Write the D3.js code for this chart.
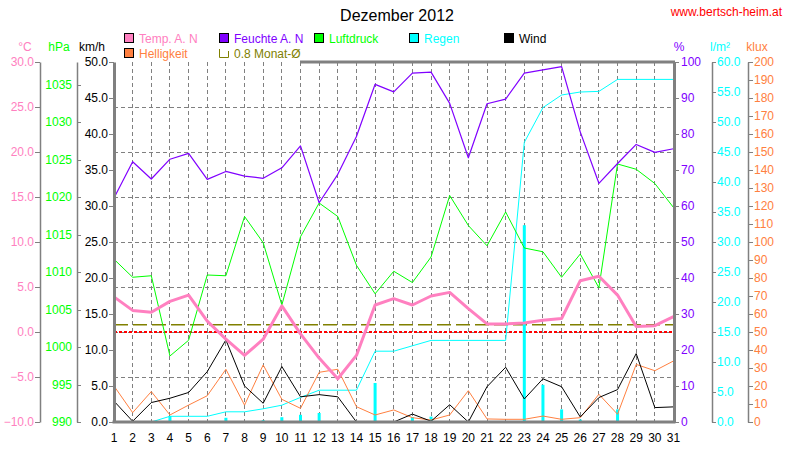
<!DOCTYPE html>
<html>
<head>
<meta charset="utf-8">
<script src="https://cdn.jsdelivr.net/npm/d3@7"></script>
<style>
  body { margin: 0; background: #fff; }
  svg { font-family: "Liberation Sans", Arial, sans-serif; font-size: 12px; }
  .axis path, .axis line { stroke: #808080; }
  .axis text { font-size: 12px; }
</style>
</head>
<body>
<div id="chart"></div>
<script>
// Tage im Dezember
var days = [1,2,3,4,5,6,7,8,9,10,11,12,13,14,15,16,17,18,19,20,21,22,23,24,25,26,27,28,29,30,31];

var temp = [3.9,2.4,2.2,3.4,4.1,1.2,-0.8,-2.6,-0.8,2.9,-0.2,-2.9,-5.2,-2.6,3.0,3.7,3.0,4.0,4.4,2.6,0.9,0.9,1.0,1.3,1.5,5.7,6.2,4.1,0.6,0.7,1.7];
var humidity = [62.2,72.3,67.5,73.0,74.6,67.4,69.6,68.3,67.7,70.6,76.7,60.9,68.8,79.3,93.8,91.7,96.9,97.2,88.5,73.4,88.4,89.7,96.9,97.8,98.7,80.6,66.3,71.8,77.1,74.9,75.9];
var pressure = [1011.7,1009.3,1009.5,998.8,1000.9,1009.6,1009.5,1017.4,1013.9,1005.6,1014.7,1019.2,1017.4,1010.9,1007.1,1010.1,1008.6,1012.0,1020.2,1016.2,1013.5,1018.0,1013.2,1012.7,1009.3,1012.4,1007.9,1024.4,1023.7,1021.8,1018.6];
var wind = [2.9,0.1,2.7,3.3,4.1,7.0,11.4,5.0,2.6,7.7,3.5,3.8,3.5,0,0,0,1.1,0.1,2.4,0,4.9,7.6,3.2,6.0,4.9,0.7,3.4,4.5,9.5,2.0,2.1];
var light = [20.0,5.2,16.9,3.9,9.4,14.6,29.3,9.4,31.7,12.6,7.6,27.6,29.3,8.5,3.9,6.7,2.4,1.1,3.9,17.4,1.7,1.5,1.5,3.3,1.5,2.4,15.4,4.3,32.0,28.5,33.9];
var rainDay = [0,0,0,1.0,0,0,0.7,0,0.3,0.8,1.2,1.5,0,0,6.5,0,0.8,0.9,0,0,0,0,32.8,6.2,2.1,0.4,0,2.1,0,0,0];
var rainSum = [0,0,0,0.95,0.95,0.95,1.7,1.7,2.2,2.8,4.1,5.3,5.3,5.3,11.8,11.8,12.7,13.6,13.6,13.6,13.6,13.6,46.6,52.4,54.5,55.0,55.1,57.1,57.1,57.1,57.1];
var monthMean = 0.8;

// Achsenbeschriftungen
var tempTicks = [-10,-5,0,5,10,15,20,25,30];
var pressTicks = [990,995,1000,1005,1010,1015,1020,1025,1030,1035];
var windTicks = [0,5,10,15,20,25,30,35,40,45,50];
var humTicks = [0,10,20,30,40,50,60,70,80,90,100];
var rainTicks = [0,5,10,15,20,25,30,35,40,45,50,55,60];
var lightTicks = [0,10,20,30,40,50,60,70,80,90,100,110,120,130,140,150,160,170,180,190,200];

var colors = {
  temp: "#ff80c0", hum: "#8000ff", press: "#00ff00", rain: "#00ffff",
  wind: "#000000", light: "#ff8040", mean: "#808000", grid: "#808080"
};

var W = 790, H = 460;
var plotL = 114, plotR = 673.5, plotT = 62, plotB = 422;

var svg = d3.select("#chart").append("svg")
    .attr("width", W)
    .attr("height", H);

// Skalen
var x = d3.scaleLinear().domain([1, 31]).range([plotL, plotR]);
var yT = d3.scaleLinear().domain([-10, 30]).range([plotB, plotT]);
var yP = d3.scaleLinear().domain([990, 1038]).range([plotB, plotT]);
var yW = d3.scaleLinear().domain([0, 50]).range([plotB, plotT]);
var yH = d3.scaleLinear().domain([0, 100]).range([plotB, plotT]);
var yR = d3.scaleLinear().domain([0, 60]).range([plotB, plotT]);
var yL = d3.scaleLinear().domain([0, 200]).range([plotB, plotT]);

// Gitter
var grid = svg.append("g").attr("shape-rendering", "crispEdges");
grid.selectAll("line.h")
    .data(tempTicks.filter(function(d) { return d > -10 && d < 30; }))
    .enter().append("line")
    .attr("x1", plotL).attr("x2", plotR)
    .attr("y1", function(d) { return yT(d); })
    .attr("y2", function(d) { return yT(d); })
    .style("stroke", colors.grid)
    .style("stroke-dasharray", "4,3");
grid.selectAll("line.v")
    .data(days.slice(1, 30))
    .enter().append("line")
    .attr("x1", function(d) { return x(d); })
    .attr("x2", function(d) { return x(d); })
    .attr("y1", plotT).attr("y2", plotB)
    .style("stroke", colors.grid)
    .style("stroke-dasharray", "4,3");

// Frostlinie und Monatsmittel
svg.append("line")
    .attr("x1", plotL).attr("x2", plotR)
    .attr("y1", yT(0)).attr("y2", yT(0))
    .style("stroke", "#ff0000").style("stroke-width", 2)
    .style("stroke-dasharray", "3,2");
svg.append("line")
    .attr("x1", plotL).attr("x2", plotR)
    .attr("y1", yT(monthMean)).attr("y2", yT(monthMean))
    .style("stroke", colors.mean).style("stroke-width", 1.5)
    .style("stroke-dasharray", "14,5");

// Regen pro Tag als Balken
svg.selectAll("rect.rain")
    .data(days.filter(function(d, i) { return rainDay[i] > 0; }))
    .enter().append("rect")
    .attr("x", function(d) { return x(d) - 1.5; })
    .attr("width", 3)
    .attr("y", function(d) { return yR(rainDay[d - 1]); })
    .attr("height", function(d) { return plotB - yR(rainDay[d - 1]); })
    .style("fill", colors.rain);

function series(values, yScale, color, width) {
  var line = d3.line()
      .x(function(d, i) { return x(days[i]); })
      .y(function(d) { return yScale(d); });
  svg.append("path")
      .datum(values)
      .attr("d", line)
      .style("fill", "none")
      .style("stroke", color)
      .style("stroke-width", width)
      .style("stroke-linejoin", "round");
}

series(rainSum, yR, colors.rain, 1);
series(light, yL, colors.light, 1);
series(wind, yW, colors.wind, 1);
series(pressure, yP, colors.press, 1);
series(humidity, yH, colors.hum, 1.2);
series(temp, yT, colors.temp, 3);

// Achsen
function axis(gen, xpos, ticks, fmt, color) {
  var g = svg.append("g")
      .attr("class", "axis")
      .attr("transform", "translate(" + xpos + ",0)")
      .call(gen.tickValues(ticks).tickFormat(fmt).tickSizeOuter(0));
  g.selectAll("line").attr("shape-rendering", "crispEdges");
  g.selectAll("text").style("fill", color);
  g.select(".domain").style("stroke", "#808080").style("stroke-width", 1.5);
  return g;
}

axis(d3.axisLeft(yT).tickSize(5).tickPadding(1), 40, tempTicks, d3.format(".1f"), colors.temp);
axis(d3.axisLeft(yP).tickSize(-4).tickPadding(5), 77, pressTicks, d3.format("d"), colors.press);
var wAx = axis(d3.axisLeft(yW).tickSize(5).tickPadding(1), plotL, windTicks, d3.format(".1f"), "#000");
var hAx = axis(d3.axisRight(yH).tickSize(5).tickPadding(2), 674, humTicks, d3.format("d"), colors.hum);
axis(d3.axisRight(yR).tickSize(4).tickPadding(1), 712, rainTicks, d3.format(".1f"), colors.rain);
axis(d3.axisRight(yL).tickSize(5).tickPadding(1), 748, lightTicks, d3.format("d"), colors.light);
wAx.select(".domain").style("stroke-width", 3);
hAx.select(".domain").style("stroke-width", 3);

// Rahmen oben und unten
svg.append("line")
    .attr("x1", 300).attr("x2", 675)
    .attr("y1", plotT).attr("y2", plotT)
    .style("stroke", "#808080").style("stroke-width", 3);
svg.append("line")
    .attr("x1", plotL - 1.5).attr("x2", 675.5)
    .attr("y1", plotB).attr("y2", plotB)
    .style("stroke", "#808080").style("stroke-width", 3);

// Tage
svg.selectAll("text.day")
    .data(days)
    .enter().append("text")
    .attr("x", function(d) { return x(d); })
    .attr("y", 442)
    .attr("text-anchor", "middle")
    .style("fill", "#000")
    .text(function(d) { return d; });

// Einheiten
var units = [
  {t: "°C", x: 25, c: colors.temp},
  {t: "hPa", x: 59, c: colors.press},
  {t: "km/h", x: 92, c: "#000"},
  {t: "%", x: 679, c: colors.hum},
  {t: "l/m²", x: 720, c: colors.rain},
  {t: "klux", x: 757, c: colors.light}
];
svg.selectAll("text.unit")
    .data(units)
    .enter().append("text")
    .attr("x", function(d) { return d.x; })
    .attr("y", 51)
    .attr("text-anchor", "middle")
    .style("fill", function(d) { return d.c; })
    .text(function(d) { return d.t; });

// Titel
svg.append("text")
    .attr("x", 397).attr("y", 21)
    .attr("text-anchor", "middle")
    .style("font-size", "16px")
    .text("Dezember 2012");
svg.append("text")
    .attr("x", 782).attr("y", 16)
    .attr("text-anchor", "end")
    .style("fill", "#ff0000")
    .text("www.bertsch-heim.at");

// Legende
var legend = [
  {t: "Temp. A. N", c: colors.temp, x: 124, y: 33},
  {t: "Feuchte A. N", c: colors.hum, x: 219, y: 33},
  {t: "Luftdruck", c: colors.press, x: 314, y: 33},
  {t: "Regen", c: colors.rain, x: 409, y: 33},
  {t: "Wind", c: colors.wind, x: 504, y: 33},
  {t: "Helligkeit", c: colors.light, x: 124, y: 48}
];
var lg = svg.selectAll("g.legend")
    .data(legend)
    .enter().append("g")
    .attr("transform", function(d) { return "translate(" + d.x + "," + d.y + ")"; });
lg.append("rect")
    .attr("x", 0.5).attr("y", 0.5)
    .attr("width", 9).attr("height", 9)
    .style("fill", function(d) { return d.c; })
    .style("stroke", "#000");
lg.append("text")
    .attr("x", 15).attr("y", 9.5)
    .style("fill", function(d) { return d.c; })
    .text(function(d) { return d.t; });

var meanLeg = svg.append("g").attr("transform", "translate(219,48)");
meanLeg.append("path")
    .attr("d", "M0.5,1V9.5H9.5V3")
    .style("fill", "none")
    .style("stroke", colors.mean);
meanLeg.append("text")
    .attr("x", 15).attr("y", 9.5)
    .style("fill", colors.mean)
    .text("0.8 Monat-Ø");
</script>
</body>
</html>
